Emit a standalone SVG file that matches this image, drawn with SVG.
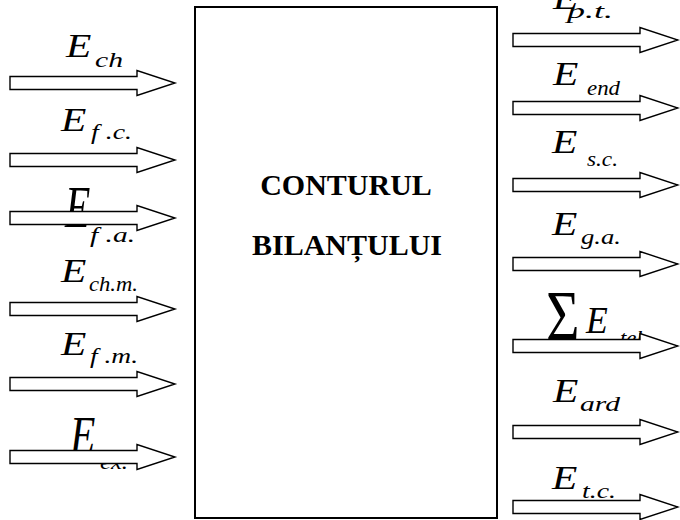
<svg xmlns="http://www.w3.org/2000/svg" width="680" height="520" viewBox="0 0 680 520">
<style>
text{font-family:'Liberation Serif','Times New Roman',serif;fill:#000}
.box{fill:#fff;stroke:#000;stroke-width:2}
.arr{fill:#fff;stroke:#000;stroke-width:1.4;stroke-linejoin:miter}
.E{font-style:italic;font-size:34px}
.s{font-style:italic;font-size:20px}
.sg{font-size:72px}
.t{font-weight:bold;font-size:30px;text-anchor:middle}
</style>
<defs>
<path id="ar" d="M0,-6.5 H127 V-12.5 L165,0 L127,12.5 V6.5 H0 Z"/>
</defs>
<g id="contur">
<rect class="box" x="195" y="7" width="302" height="511"/>
<text class="t" x="346" y="195">CONTURUL</text>
<text class="t" x="347" y="255">BILANȚULUI</text>
</g>
<g id="labels-in">
<g id="l-ch"><text class="E" transform="translate(66,57) scale(1.22,1)">E</text><text class="s" x="95" y="67" textLength="28" lengthAdjust="spacingAndGlyphs">ch</text></g>
<g id="l-fc"><text class="E" transform="translate(61,131) scale(1.22,1)">E</text><text class="s" x="91" y="139" textLength="41" lengthAdjust="spacingAndGlyphs">f .c.</text></g>
<g id="l-fa"><text class="E" transform="translate(65,227) scale(1.22,1.75)">E</text><text class="s" x="90" y="242" textLength="45" lengthAdjust="spacingAndGlyphs">f .a.</text></g>
<g id="l-chm"><text class="E" transform="translate(61,282) scale(1.22,1)">E</text><text class="s" x="89" y="291" textLength="49" lengthAdjust="spacingAndGlyphs">ch.m.</text></g>
<g id="l-fm"><text class="E" transform="translate(61,355) scale(1.22,1)">E</text><text class="s" x="90" y="363" textLength="48" lengthAdjust="spacingAndGlyphs">f .m.</text></g>
<g id="l-ex"><text class="E" transform="translate(70,453) scale(1.22,1.55)">E</text><text class="s" x="100" y="469" textLength="28" lengthAdjust="spacingAndGlyphs">ex.</text></g>
</g>
<g id="labels-out">
<g id="l-pt"><text class="E" transform="translate(553,9) scale(1.22,1)">E</text><text class="s" x="567" y="18" textLength="46" lengthAdjust="spacingAndGlyphs">p.t.</text></g>
<g id="l-end"><text class="E" transform="translate(553,85) scale(1.22,1)">E</text><text class="s" x="587" y="95" textLength="33" lengthAdjust="spacingAndGlyphs">end</text></g>
<g id="l-sc"><text class="E" transform="translate(552,153) scale(1.22,1)">E</text><text class="s" x="587" y="166" textLength="31" lengthAdjust="spacingAndGlyphs">s.c.</text></g>
<g id="l-ga"><text class="E" transform="translate(552,235) scale(1.22,1)">E</text><text class="s" x="581" y="244" textLength="40" lengthAdjust="spacingAndGlyphs">g.a.</text></g>
<g id="l-teh"><text class="sg" transform="translate(546,340) scale(0.8,1)">Σ</text><text class="E" transform="translate(586,333) scale(1.05,1.12)">E</text><text class="s" x="620" y="345" textLength="28" lengthAdjust="spacingAndGlyphs">teh</text></g>
<g id="l-ard"><text class="E" transform="translate(553,402) scale(1.22,1)">E</text><text class="s" x="580" y="411" textLength="40" lengthAdjust="spacingAndGlyphs">ard</text></g>
<g id="l-tc"><text class="E" transform="translate(552,489) scale(1.22,1)">E</text><text class="s" x="582" y="498" textLength="34" lengthAdjust="spacingAndGlyphs">t.c.</text></g>
</g>
<g id="connectors">
<use class="arr" href="#ar" transform="translate(10,83)"/>
<use class="arr" href="#ar" transform="translate(10,160)"/>
<use class="arr" href="#ar" transform="translate(10,218)"/>
<use class="arr" href="#ar" transform="translate(10,309)"/>
<use class="arr" href="#ar" transform="translate(10,384)"/>
<use class="arr" href="#ar" transform="translate(10,457)"/>
<use class="arr" href="#ar" transform="translate(513,40)"/>
<use class="arr" href="#ar" transform="translate(513,108)"/>
<use class="arr" href="#ar" transform="translate(513,185)"/>
<use class="arr" href="#ar" transform="translate(513,264)"/>
<use class="arr" href="#ar" transform="translate(513,346)"/>
<use class="arr" href="#ar" transform="translate(513,432)"/>
<use class="arr" href="#ar" transform="translate(513,507)"/>
</g>
</svg>
